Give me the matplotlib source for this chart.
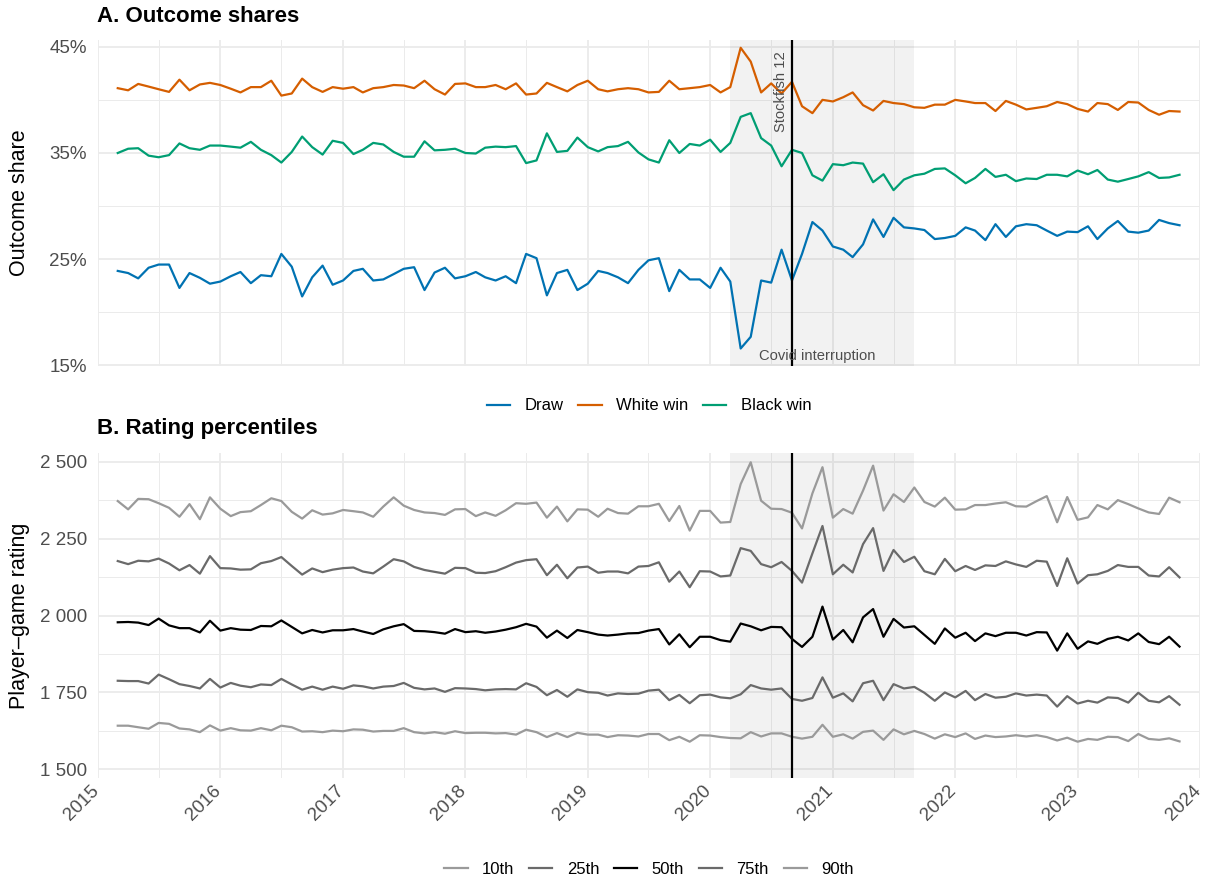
import matplotlib
matplotlib.use("Agg")
import matplotlib.pyplot as plt
import matplotlib.dates as mdates
import matplotlib.ticker as mticker
import matplotlib.transforms as mtransforms
import pandas as pd

plt.rcParams['font.family'] = ['Liberation Sans', 'DejaVu Sans']

# monthly data, Mar 2015 - Nov 2023
months = pd.date_range('2015-03-01', '2023-11-01', freq='MS')

draw = [23.9, 23.7, 23.2, 24.2, 24.5, 24.5, 22.3, 23.7, 23.25, 22.7, 22.9, 23.4, 23.8, 22.75, 23.5, 23.4,
        25.5, 24.3, 21.5, 23.3, 24.4, 22.6, 23.0, 23.9, 24.1, 23.0,
        23.1, 23.6, 24.1, 24.25, 22.1, 23.75, 24.2, 23.2, 23.4, 23.8, 23.3, 23.0, 23.4, 22.75, 25.5, 25.1,
        21.6, 23.7, 24.0, 22.1, 22.7, 23.9, 23.7, 23.3, 22.75, 24.0, 24.9,
        25.1, 22.0, 24.0, 23.1, 23.1, 22.3, 24.2, 22.9, 16.6, 17.7, 23.0, 22.8, 25.9, 23.0, 25.5, 28.5,
        27.7, 26.2, 25.9, 25.2, 26.4, 28.75, 27.1, 28.9, 28.0, 27.9, 27.75, 26.9,
        27.0, 27.2, 28.0, 27.7, 26.8, 28.3, 27.1, 28.1, 28.3, 28.2, 27.7, 27.2, 27.6, 27.55, 28.1, 26.9,
        27.9, 28.6, 27.6, 27.5, 27.7, 28.7, 28.4, 28.2]
white_win = [41.1, 40.9, 41.5, 41.25, 41.0, 40.75, 41.9, 40.9, 41.45, 41.6, 41.4, 41.05, 40.7, 41.2, 41.2,
             41.8, 40.4, 40.6, 42.0, 41.2, 40.75, 41.2, 41.05, 41.2, 40.7, 41.1,
             41.2, 41.4, 41.35, 41.1, 41.8, 41.0, 40.5, 41.5, 41.55, 41.2, 41.2, 41.4, 41.0, 41.55, 40.5,
             40.6, 41.6, 41.2, 40.8, 41.4, 41.8, 41.0, 40.8, 41.0, 41.1, 41.0, 40.7,
             40.75, 41.8, 41.0, 41.1, 41.2, 41.4, 40.7, 41.2, 44.9, 43.6, 40.7, 41.55, 40.6, 41.7, 39.4,
             38.75, 40.0, 39.85, 40.25, 40.7, 39.5, 39.0, 39.9, 39.7, 39.6, 39.3, 39.25, 39.55,
             39.55, 40.0, 39.85, 39.7, 39.7, 38.95, 39.9, 39.55, 39.1, 39.25, 39.4, 39.8, 39.6, 39.15, 38.9,
             39.7, 39.6, 39.05, 39.8, 39.75, 39.05, 38.6, 38.95, 38.9]
black_win = [35.0, 35.4, 35.45, 34.75, 34.6, 34.8, 35.9, 35.45, 35.3, 35.7, 35.7, 35.6, 35.5, 36.05, 35.3,
             34.8, 34.1, 35.1, 36.55, 35.55, 34.85, 36.15, 35.95, 34.9, 35.3, 35.95,
             35.8, 35.1, 34.65, 34.65, 36.1, 35.25, 35.3, 35.4, 35.0, 34.95, 35.5, 35.6, 35.55, 35.65, 34.05,
             34.3, 36.85, 35.1, 35.2, 36.45, 35.55, 35.15, 35.55, 35.65, 36.05, 35.05, 34.4,
             34.1, 36.2, 35.0, 35.85, 35.7, 36.25, 35.1, 35.95, 38.4, 38.75, 36.4, 35.7, 33.75, 35.3, 35.0,
             32.9, 32.4, 33.95, 33.85, 34.1, 34.0, 32.25, 33.0, 31.5, 32.5, 32.9, 33.05, 33.5,
             33.55, 32.9, 32.15, 32.65, 33.5, 32.75, 32.95, 32.35, 32.6, 32.55, 32.95, 32.95, 32.8, 33.35,
             33.0, 33.4, 32.5, 32.3, 32.55, 32.8, 33.2, 32.65, 32.7, 32.95]

p90 = [2372, 2345, 2379, 2378, 2365, 2350, 2321, 2362, 2313, 2384, 2347, 2323, 2336, 2339, 2359, 2381, 2372,
       2337, 2315, 2342, 2328, 2332, 2343, 2339, 2335, 2321,
       2354, 2384, 2357, 2343, 2335, 2333, 2327, 2345, 2346, 2323, 2335, 2324, 2342, 2365, 2363, 2367, 2318,
       2354, 2306, 2345, 2344, 2321, 2347, 2333, 2331, 2355, 2355,
       2363, 2307, 2356, 2276, 2340, 2340, 2302, 2304, 2427, 2498, 2373, 2347, 2346, 2334, 2283, 2397, 2482,
       2318, 2346, 2331, 2406, 2487, 2341, 2394, 2369, 2416, 2369, 2354,
       2383, 2344, 2345, 2359, 2359, 2364, 2368, 2355, 2354, 2372, 2388, 2303, 2385, 2311, 2319, 2359, 2345,
       2375, 2362, 2348, 2335, 2330, 2383, 2368]
p75 = [2177, 2167, 2178, 2176, 2185, 2169, 2147, 2164, 2136, 2193, 2154, 2153, 2149, 2150, 2170, 2177, 2190,
       2161, 2133, 2153, 2141, 2149, 2154, 2156, 2143, 2137,
       2159, 2183, 2176, 2158, 2148, 2142, 2136, 2155, 2154, 2139, 2138, 2144, 2157, 2172, 2180, 2183, 2131,
       2165, 2121, 2156, 2159, 2139, 2143, 2143, 2137, 2159, 2161,
       2173, 2110, 2143, 2092, 2144, 2143, 2127, 2130, 2219, 2210, 2167, 2157, 2174, 2145, 2107, 2202, 2291,
       2134, 2165, 2140, 2232, 2284, 2145, 2213, 2174, 2191, 2144, 2134,
       2184, 2144, 2161, 2148, 2163, 2161, 2176, 2166, 2158, 2178, 2175, 2096, 2186, 2104, 2131, 2134, 2145,
       2164, 2158, 2158, 2130, 2127, 2157, 2124]
p50 = [1978, 1979, 1977, 1969, 1990, 1968, 1959, 1959, 1945, 1983, 1951, 1959, 1954, 1953, 1966, 1965, 1984,
       1963, 1942, 1953, 1945, 1952, 1952, 1956, 1948, 1940,
       1955, 1965, 1972, 1950, 1949, 1946, 1941, 1956, 1946, 1949, 1944, 1948, 1954, 1962, 1973, 1964, 1928,
       1951, 1927, 1953, 1946, 1938, 1935, 1938, 1942, 1943, 1951,
       1956, 1906, 1939, 1897, 1931, 1931, 1920, 1915, 1974, 1965, 1952, 1963, 1962, 1924, 1898, 1931, 2029,
       1922, 1953, 1913, 1994, 2021, 1931, 1989, 1961, 1965, 1937, 1908,
       1958, 1928, 1944, 1917, 1942, 1933, 1944, 1944, 1935, 1946, 1945, 1886, 1942, 1892, 1916, 1908, 1924,
       1931, 1919, 1942, 1914, 1907, 1931, 1899]
p25 = [1788, 1787, 1787, 1779, 1808, 1793, 1777, 1771, 1763, 1794, 1766, 1781, 1772, 1767, 1776, 1774, 1794,
       1776, 1759, 1769, 1759, 1769, 1762, 1773, 1770, 1763,
       1769, 1771, 1781, 1765, 1760, 1763, 1752, 1764, 1763, 1761, 1757, 1760, 1761, 1760, 1780, 1768, 1741,
       1758, 1736, 1760, 1751, 1749, 1740, 1747, 1745, 1746, 1756,
       1759, 1725, 1742, 1715, 1741, 1743, 1734, 1731, 1744, 1774, 1763, 1759, 1763, 1729, 1723, 1732, 1799,
       1733, 1747, 1721, 1780, 1788, 1725, 1777, 1763, 1768, 1749, 1723,
       1750, 1734, 1755, 1725, 1745, 1733, 1736, 1747, 1740, 1743, 1740, 1704, 1738, 1714, 1723, 1717, 1734,
       1732, 1717, 1749, 1723, 1718, 1738, 1710]
p10 = [1642, 1642, 1637, 1632, 1651, 1648, 1633, 1630, 1621, 1643, 1626, 1634, 1627, 1626, 1634, 1627, 1642,
       1637, 1623, 1624, 1621, 1626, 1624, 1630, 1629, 1623,
       1625, 1625, 1634, 1621, 1617, 1621, 1616, 1624, 1618, 1619, 1619, 1617, 1618, 1613, 1629, 1621, 1605,
       1618, 1605, 1619, 1613, 1613, 1605, 1611, 1610, 1607, 1615,
       1615, 1595, 1606, 1590, 1611, 1610, 1605, 1602, 1601, 1621, 1607, 1617, 1617, 1606, 1600, 1606, 1645,
       1606, 1614, 1600, 1622, 1626, 1596, 1630, 1614, 1625, 1615, 1600,
       1614, 1605, 1617, 1599, 1610, 1605, 1607, 1611, 1607, 1611, 1605, 1594, 1603, 1590, 1599, 1596, 1606,
       1605, 1592, 1615, 1599, 1596, 1601, 1591]

outcome_names = ['Draw', 'White win', 'Black win']
outcome_colors = ['#0072B2', '#D55E00', '#009E73']
pct_names = ['10th', '25th', '50th', '75th', '90th']
pct_colors = ['#9A9A9A', '#6A6A6A', '#000000', '#6A6A6A', '#9A9A9A']

covid_start = pd.Timestamp('2020-03-01')
covid_end = pd.Timestamp('2021-09-01')
sf12 = pd.Timestamp('2020-09-01')

grid_c = '#EBEBEB'
txt_c = '#4D4D4D'


def style(ax):
    for s in ax.spines.values():
        s.set_visible(False)
    ax.set_xlim(pd.Timestamp('2015-01-01'), pd.Timestamp('2024-01-01'))
    ax.xaxis.set_major_locator(mdates.YearLocator(1))
    ax.xaxis.set_minor_locator(mdates.MonthLocator(bymonth=7))
    ax.xaxis.set_major_formatter(mdates.DateFormatter('%Y'))
    ax.grid(which='major', color=grid_c, lw=1.3, zorder=0)
    ax.grid(which='minor', color=grid_c, lw=0.7, zorder=0)
    ax.set_axisbelow(True)
    ax.tick_params(which='both', length=0, labelsize=13.5, labelcolor=txt_c, pad=8)
    ax.axvspan(covid_start, covid_end, color='grey', alpha=0.1, lw=0, zorder=1)
    ax.axvline(sf12, color='black', lw=1.6, zorder=4)


fig = plt.figure(figsize=(12.11, 8.82), dpi=100)
ax1 = fig.add_axes([0.0809, 0.585, 0.910, 0.3696])
ax2 = fig.add_axes([0.0809, 0.1179, 0.910, 0.3688])
leg_x = 0.536

# A. outcome shares
style(ax1)
for vals, name, col in zip([draw, white_win, black_win], outcome_names, outcome_colors):
    ax1.plot(months, vals, color=col, lw=1.6, label=name, zorder=3)
ax1.set_ylim(14.95, 45.63)
ax1.set_yticks([15, 25, 35, 45])
ax1.set_yticks([20, 30, 40], minor=True)
ax1.yaxis.set_major_formatter(mticker.FuncFormatter(lambda v, p: '%d%%' % round(v)))
ax1.tick_params(axis='x', labelbottom=False)
ax1.set_ylabel('Outcome share', fontsize=15.5)
ax1.yaxis.set_label_coords(-0.062, 0.5)
ax1.annotate('Stockfish 12', xy=(sf12, 44.6), xytext=(-3, 0), textcoords='offset points',
             rotation=90, ha='right', va='top', fontsize=10.6, color=txt_c, zorder=5)
ax1.text(pd.Timestamp('2020-11-15'), 15.9, 'Covid interruption', ha='center', va='center',
         fontsize=10.6, color=txt_c, zorder=5)
ax1.legend(loc='center', bbox_to_anchor=(leg_x, 0.5397), bbox_transform=fig.transFigure, ncol=3,
           frameon=False, fontsize=12, handlelength=1.4, handletextpad=0.85, columnspacing=0.9)

# B. rating percentiles
style(ax2)
for vals, name, col in zip([p10, p25, p50, p75, p90], pct_names, pct_colors):
    ax2.plot(months, vals, color=col, lw=1.6, label=name, zorder=3)
ax2.set_ylim(1472, 2529)
ax2.set_yticks([1500, 1750, 2000, 2250, 2500])
ax2.set_yticks([1625, 1875, 2125, 2375], minor=True)
ax2.yaxis.set_major_formatter(mticker.FuncFormatter(lambda v, p: '{:,}'.format(int(round(v))).replace(',', ' ')))
ax2.tick_params(axis='x', pad=3)
shift = mtransforms.ScaledTranslation(-0.08, 0, fig.dpi_scale_trans)
for lab in ax2.get_xticklabels():
    lab.set_rotation(45)
    lab.set_ha('right')
    lab.set_va('top')
    lab.set_rotation_mode('anchor')
    lab.set_transform(lab.get_transform() + shift)
ax2.set_ylabel('Player\u2013game rating', fontsize=15.5)
ax2.yaxis.set_label_coords(-0.062, 0.5)
ax2.legend(loc='center', bbox_to_anchor=(leg_x, 0.0147), bbox_transform=fig.transFigure, ncol=5,
           frameon=False, fontsize=12, handlelength=1.4, handletextpad=0.85, columnspacing=0.9)

fig.text(0.0801, 0.981, 'A. Outcome shares', fontsize=16, fontweight='bold', va='center', ha='left')
fig.text(0.0801, 0.5147, 'B. Rating percentiles', fontsize=16, fontweight='bold', va='center', ha='left')

fig.savefig('out.png', dpi=100)
